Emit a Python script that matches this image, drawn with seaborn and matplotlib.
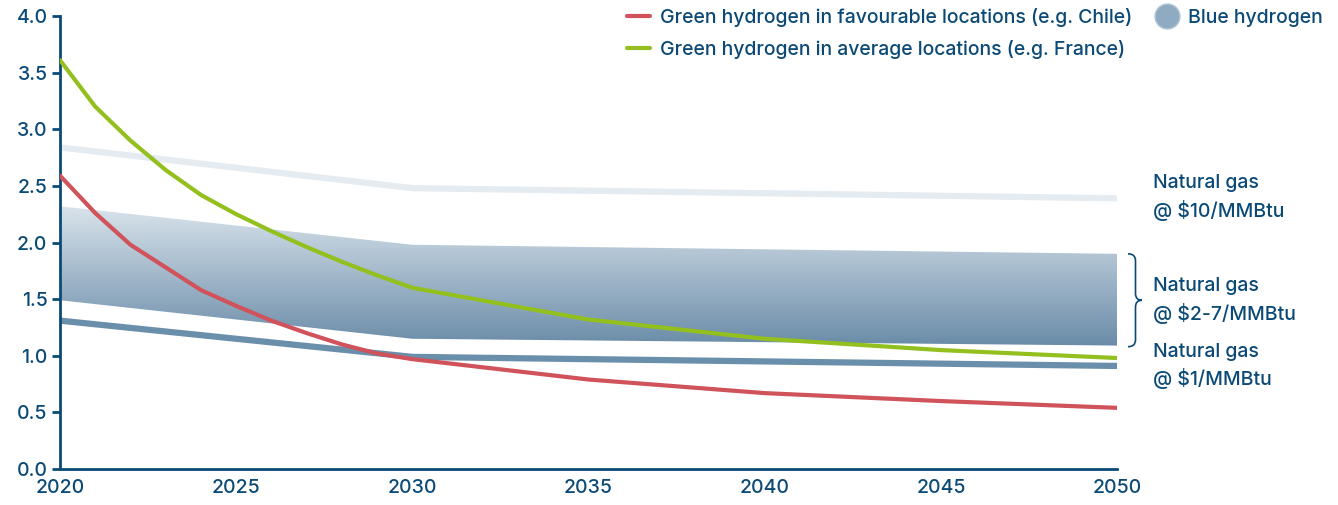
import numpy as np
import pandas as pd
import seaborn as sns
import matplotlib.pyplot as plt
from matplotlib.path import Path
from matplotlib.patches import PathPatch
from matplotlib.lines import Line2D
import matplotlib.transforms as mtransforms

# data
years = [2020, 2021, 2022, 2023, 2024, 2025, 2026, 2027, 2028, 2029, 2030, 2035, 2040, 2045, 2050]
chile = [2.59, 2.26, 1.98, 1.78, 1.58, 1.44, 1.31, 1.20, 1.10, 1.02, 0.97, 0.79, 0.67, 0.60, 0.54]
france = [3.61, 3.20, 2.90, 2.64, 2.42, 2.25, 2.10, 1.96, 1.83, 1.71, 1.60, 1.32, 1.15, 1.05, 0.98]

ng_years = [2020, 2030, 2050]
ng10 = [2.84, 2.48, 2.39]
ng1 = [1.31, 0.99, 0.91]
blue_low = [1.49, 1.15, 1.09]
blue_high = [2.32, 1.98, 1.90]

NAVY = "#0b4a76"
RED = "#d0525a"
GREEN = "#93c01f"
FS = 14

sns.set_theme(style="white")
plt.rcParams['font.family'] = ['Inter', 'DejaVu Sans']
plt.rcParams['font.weight'] = 'medium'

fig = plt.figure(figsize=(13.38, 5.05), dpi=100)
ax = fig.add_axes([60 / 1338, 1 - 469 / 505, 1057 / 1338, 453 / 505])

# blue hydrogen band with vertical gradient (dark at bottom, light at top)
band = ax.fill_between(ng_years, blue_low, blue_high, facecolor="none", edgecolor="none")
grad = np.linspace(0, 1, 256).reshape(-1, 1)
cmap = sns.blend_palette(["#6a8ca8", "#d9e3eb"], as_cmap=True)
im = ax.imshow(grad, cmap=cmap, aspect="auto", origin="lower",
               extent=[2020, 2050, min(blue_low), max(blue_high)], zorder=1)
im.set_clip_path(band.get_paths()[0], transform=ax.transData)

df_ng = pd.DataFrame({"year": ng_years, "ng10": ng10, "ng1": ng1})
sns.lineplot(data=df_ng, x="year", y="ng10", ax=ax, color="#e4ebf1", lw=4.5, zorder=2)
sns.lineplot(data=df_ng, x="year", y="ng1", ax=ax, color="#6a8fab", lw=4.5, zorder=2)

df = pd.DataFrame({"year": years, "chile": chile, "france": france})
sns.lineplot(data=df, x="year", y="chile", ax=ax, color=RED, lw=3, zorder=3)
sns.lineplot(data=df, x="year", y="france", ax=ax, color=GREEN, lw=3, zorder=3)

ax.set_xlim(2020, 2050)
ax.set_ylim(0, 4)
ax.set_xticks(range(2020, 2051, 5))
ax.set_yticks(np.arange(0, 4.01, 0.5))
ax.set_yticklabels([f"{v:.1f}" for v in np.arange(0, 4.01, 0.5)])
ax.set_xlabel("")
ax.set_ylabel("")
for s in ["top", "right"]:
    ax.spines[s].set_visible(False)
for s in ["left", "bottom"]:
    ax.spines[s].set_color(NAVY)
    ax.spines[s].set_linewidth(2)
ax.tick_params(axis="y", colors=NAVY, labelsize=FS, length=6, width=2, direction="out", left=True, pad=3)
ax.tick_params(axis="x", colors=NAVY, labelsize=FS, length=0, pad=7)
for lab in ax.get_xticklabels() + ax.get_yticklabels():
    lab.set_color(NAVY)

# right side labels
trans = mtransforms.blended_transform_factory(ax.transAxes, ax.transData)
labels = [("Natural gas\n@ \\$10/MMBtu", 2.40), ("Natural gas\n@ \\$2-7/MMBtu", 1.49),
          ("Natural gas\n@ \\$1/MMBtu", 0.91)]
for txt, yv in labels:
    ax.text(1.034, yv, txt, transform=trans, ha="left", va="center", color=NAVY,
            fontsize=FS, linespacing=1.45, clip_on=False)

# brace
x0, x1, x2 = 1.0104, 1.0175, 1.0235
yt, yb = 1.90, 1.08
ym = (yt + yb) / 2
r = 0.06
verts = [(x0, yt), (x1, yt), (x1, yt - r),
         (x1, ym + r), (x1, ym), (x2, ym),
         (x1, ym), (x1, ym - r),
         (x1, yb + r), (x1, yb), (x0, yb)]
codes = [Path.MOVETO, Path.CURVE3, Path.CURVE3,
         Path.LINETO, Path.CURVE3, Path.CURVE3,
         Path.CURVE3, Path.CURVE3,
         Path.LINETO, Path.CURVE3, Path.CURVE3]
ax.add_patch(PathPatch(Path(verts, codes), transform=trans, fill=False,
                       edgecolor=NAVY, lw=1.2, clip_on=False))

# legend
handles = [Line2D([], [], color=RED, lw=3),
           Line2D([], [], color=GREEN, lw=3),
           Line2D([], [], marker="o", ls="none", markersize=18,
                  markerfacecolor="#8eabc2", markeredgecolor="#b5c8d7")]
names = ["Green hydrogen in favourable locations (e.g. Chile)",
         "Green hydrogen in average locations (e.g. France)",
         "Blue hydrogen"]
leg = fig.legend(handles, names, ncol=2, loc="upper left", bbox_to_anchor=(609 / 1338, 1.019),
                 frameon=False, fontsize=FS, handlelength=1.2, handletextpad=0.5,
                 columnspacing=1.2, labelspacing=0.66)
for t in leg.get_texts():
    t.set_color(NAVY)

fig.savefig("out.png", dpi=100)
